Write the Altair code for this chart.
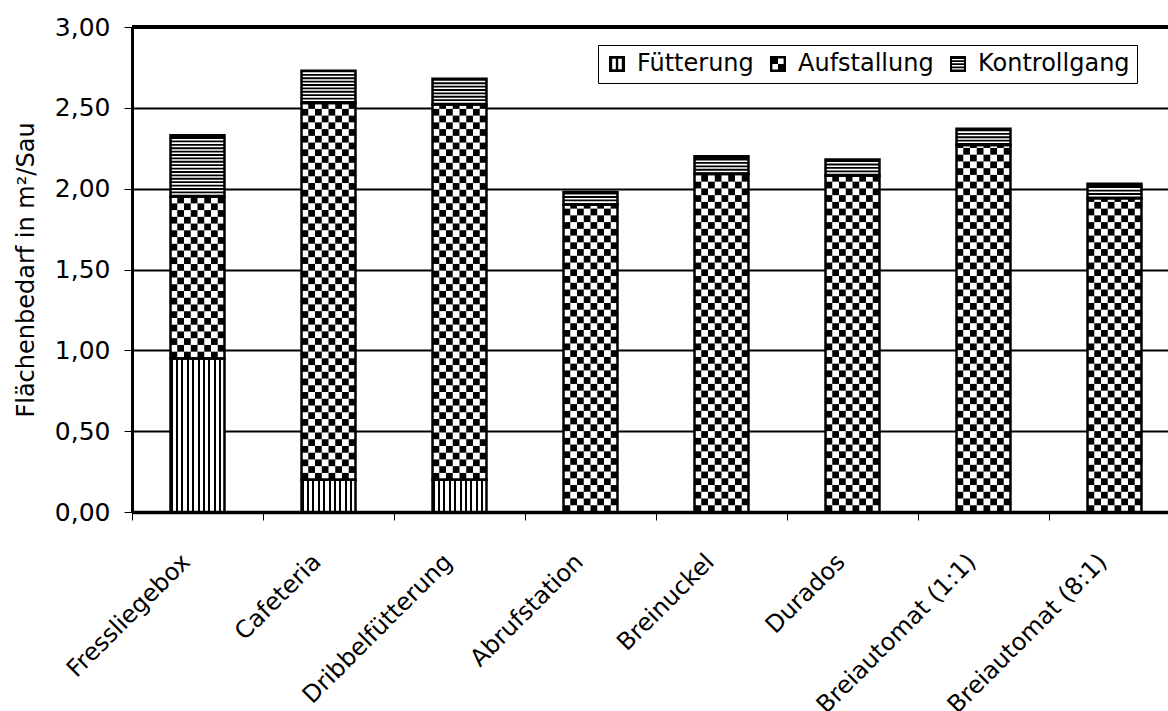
import altair as alt
import numpy as np
import pandas as pd

# Flächenbedarf je Sau (m²) nach Fütterungssystem, gestapelt
categories = [
    "Fressliegebox", "Cafeteria", "Dribbelfütterung", "Abrufstation",
    "Breinuckel", "Durados", "Breiautomat (1:1)", "Breiautomat (8:1)",
]
fuetterung = [0.95, 0.20, 0.20, 0.00, 0.00, 0.00, 0.00, 0.00]
aufstallung = [1.00, 2.33, 2.32, 1.90, 2.09, 2.08, 2.27, 1.94]
kontrollgang = [0.38, 0.20, 0.16, 0.08, 0.11, 0.10, 0.10, 0.09]
series = ["Fütterung", "Aufstallung", "Kontrollgang"]
y_ticks = [0.0, 0.5, 1.0, 1.5, 2.0, 2.5, 3.0]
Y_MAX = 3.0

FONT = "DejaVu Sans"

# stacked segments
rows = []
for i, cat in enumerate(categories):
    base = 0.0
    for name, vals in zip(series, [fuetterung, aufstallung, kontrollgang]):
        v = vals[i]
        if v > 0:
            rows.append(dict(cat=cat, series=name, y0=base, y1=base + v))
        base += v
seg = pd.DataFrame(rows)

# checkerboard cells for "Aufstallung"
CELL = 0.0417
N_COLS = 8
cells = []
for r in seg[seg.series == "Aufstallung"].itertuples():
    n_rows = int(np.ceil((r.y1 - r.y0) / CELL - 1e-9))
    for k in range(n_rows):
        lo = r.y0 + k * CELL
        hi = min(lo + CELL, r.y1)
        for c in range(N_COLS):
            if (k + c) % 2 == 0:
                cells.append(dict(cat=r.cat, col=c, y0=lo, y1=hi))
cells = pd.DataFrame(cells)

# horizontal hatching for "Kontrollgang"
STEP = 0.021
LINE = 0.0095
stripes = []
for r in seg[seg.series == "Kontrollgang"].itertuples():
    lo = r.y0 + 0.012
    while lo + LINE < r.y1 - 0.009:
        stripes.append(dict(cat=r.cat, y0=lo, y1=lo + LINE))
        lo += STEP
stripes = pd.DataFrame(stripes)

# vertical hatching for "Fütterung"
stops = []
for k in range(10):
    a = k / 10
    stops += [
        {"offset": a, "color": "black"},
        {"offset": a + 0.04, "color": "black"},
        {"offset": a + 0.04, "color": "white"},
        {"offset": a + 0.1, "color": "white"},
    ]
vertical_hatch = {"gradient": "linear", "x1": 0, "x2": 1, "y1": 0, "y2": 0, "stops": stops}

x_scale = alt.Scale(range=[0, 1048], paddingInner=0.588, paddingOuter=0.294)
x_axis = alt.Axis(
    title=None, labelAngle=-45, labelAlign="right", labelBaseline="middle",
    labelPadding=38, labelOffset=54, labelLimit=0, labelFont=FONT,
    labelFontSize=24, labelColor="black", labelOverlap=False,
    tickOffset=-65.5, tickSize=8, tickColor="black", tickWidth=1,
    domainColor="black", domainWidth=3.5, grid=False,
)
y_axis = alt.Axis(
    values=y_ticks, labelExpr="replace(format(datum.value, '.2f'), '.', ',')",
    labelFont=FONT, labelFontSize=25, labelColor="black", labelPadding=14,
    tickSize=8, tickColor="black", tickWidth=1, domainColor="black",
    domainWidth=3, grid=True, gridColor="black", gridWidth=2,
    titleFont=FONT, titleFontSize=24, titleFontWeight="normal",
    titleColor="black", titlePadding=16,
)


def X():
    return alt.X("cat:N", sort=categories, scale=x_scale, axis=x_axis)


def Y():
    return alt.Y("y0:Q", scale=alt.Scale(domain=[0, Y_MAX], nice=False),
                 axis=y_axis, title="Flächenbedarf in m²/Sau")


base_white = alt.Chart(seg).transform_filter(
    alt.datum.series == "Aufstallung"
).mark_bar(fill="white").encode(x=X(), y=Y(), y2="y1:Q")

feed = alt.Chart(seg).transform_filter(
    alt.datum.series == "Fütterung"
).mark_bar(fill=vertical_hatch).encode(x=X(), y=Y(), y2="y1:Q")

ctrl = alt.Chart(seg).transform_filter(
    alt.datum.series == "Kontrollgang"
).mark_bar(fill="black").encode(x=X(), y=Y(), y2="y1:Q")

checker = alt.Chart(cells).mark_bar(fill="black").encode(
    x=X(), y=Y(), y2="y1:Q",
    xOffset=alt.XOffset("col:O", scale=alt.Scale(paddingInner=0, paddingOuter=0)),
)

hatch = alt.Chart(stripes).mark_bar(fill="white").encode(x=X(), y=Y(), y2="y1:Q")

outline = alt.Chart(seg).mark_bar(
    fill="white", fillOpacity=0, stroke="black", strokeWidth=2.5
).encode(x=X(), y=Y(), y2="y1:Q")

top_line = alt.Chart(pd.DataFrame({"y0": [Y_MAX]})).mark_rule(
    color="black", strokeWidth=4
).encode(y=Y())

# legend symbols (unit-square SVG paths, white parts cut out)
sym_fuetterung = ("M-1,-1H1V1H-1Z M-0.6,-0.65V0.65H-0.15V-0.65Z "
                  "M0.15,-0.65V0.65H0.6V-0.65Z")
sym_aufstallung = "M-1,-1H1V1H-1Z M0,-0.7V0H0.7V-0.7Z M-0.7,0V0.7H0V0Z"
sym_kontroll = ("M-1,-1H1V1H-1Z M-0.75,-0.62V-0.46H0.75V-0.62Z "
                "M-0.75,-0.24V-0.08H0.75V-0.24Z M-0.75,0.14V0.3H0.75V0.14Z "
                "M-0.75,0.52V0.68H0.75V0.52Z")

legend_layer = alt.Chart(seg).mark_point(
    filled=True, opacity=0, color="black", fill="black"
).encode(
    x=X(), y=Y(),
    shape=alt.Shape(
        "series:N",
        scale=alt.Scale(domain=series, range=[sym_fuetterung, sym_aufstallung, sym_kontroll]),
        legend=alt.Legend(
            title=None, orient="none", legendX=466, legendY=18,
            direction="horizontal", strokeColor="black", fillColor="white",
            padding=7, labelFont=FONT, labelFontSize=24, labelColor="black",
            symbolSize=256, symbolFillColor="black", symbolStrokeColor="black",
            symbolStrokeWidth=0, symbolOpacity=1, labelOffset=8, columnPadding=12,
        ),
    ),
)

chart = alt.layer(
    base_white, checker, feed, ctrl, hatch, outline, top_line, legend_layer
).properties(
    width=1036, height=485,
    padding={"left": 132, "top": 27, "right": 0, "bottom": 199},
    autosize=alt.AutoSizeParams(type="none"),
).configure_view(stroke="transparent").configure(font=FONT)

chart.save("out.html", embed_options={"renderer": "svg", "actions": False})
